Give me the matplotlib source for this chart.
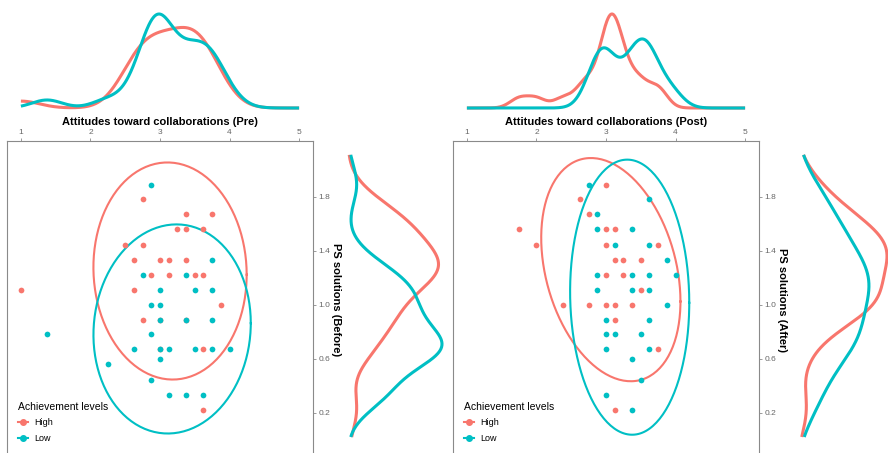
import numpy as np
import matplotlib
matplotlib.use('Agg')
from matplotlib import pyplot as plt
from matplotlib.lines import Line2D

HIGH = '#F8766D'
LOW = '#00BFC4'
TICK_GREY = '#666666'
BOX_GREY = '#8a8a8a'

plt.rcParams.update({
  'font.family': ['Liberation Sans', 'DejaVu Sans'],
  'axes.edgecolor': BOX_GREY,
  'axes.linewidth': 0.8,
  'xtick.color': BOX_GREY,
  'ytick.color': BOX_GREY,
  'xtick.labelcolor': TICK_GREY,
  'ytick.labelcolor': TICK_GREY,
  'xtick.labelsize': 6,
  'ytick.labelsize': 6,
})

# attitudes (x) vs PS solutions (y);
# the last three High points of the pre panel sit hidden under Low points
PRE_HIGH_X = [2.75, 3.375, 3.75, 3.25, 3.375, 3.625, 2.5, 2.75, 2.625, 3.0, 3.125,
              3.375, 2.875, 3.125, 3.5, 3.625, 1.0, 2.625, 3.875, 2.75, 3.625, 3.625,
              3.0, 3.0, 3.375]
PRE_HIGH_Y = [1.78, 1.67, 1.67, 1.56, 1.56, 1.56, 1.44, 1.44, 1.33, 1.33, 1.33,
              1.33, 1.22, 1.22, 1.22, 1.22, 1.11, 1.11, 1.0, 0.89, 0.67, 0.22,
              0.89, 0.67, 0.89]
PRE_LOW_X = [2.875, 3.75, 2.75, 3.375, 3.0, 3.5, 3.75, 2.875, 3.0, 3.0, 3.375, 3.75, 1.375,
             2.875, 2.625, 3.0, 3.125, 3.5, 3.75, 4.0, 3.0, 2.25, 2.875, 3.125, 3.375, 3.625]
PRE_LOW_Y = [1.89, 1.33, 1.22, 1.22, 1.11, 1.11, 1.11, 1.0, 1.0, 0.89, 0.89, 0.89, 0.78,
             0.78, 0.67, 0.67, 0.67, 0.67, 0.67, 0.67, 0.6, 0.56, 0.44, 0.33, 0.33, 0.33]

POST_HIGH_X = [3.0, 2.625, 2.75, 1.75, 3.0, 3.125, 2.0, 3.0, 3.75, 3.125, 3.25, 3.5,
               3.0, 3.25, 3.5, 2.375, 2.75, 3.0, 3.125, 3.375, 3.125, 3.75, 3.125]
POST_HIGH_Y = [1.89, 1.78, 1.67, 1.56, 1.56, 1.56, 1.44, 1.44, 1.44, 1.33, 1.33, 1.33,
               1.22, 1.22, 1.11, 1.0, 1.0, 1.0, 1.0, 1.0, 0.89, 0.67, 0.22]
POST_LOW_X = [2.75, 3.625, 2.875, 2.875, 3.375, 3.125, 3.625, 3.875, 2.875, 3.375, 3.625,
              4.0, 2.875, 3.375, 3.625, 3.875, 3.0, 3.625, 3.0, 3.125, 3.5, 3.0, 3.625,
              3.375, 3.5, 3.0, 3.375]
POST_LOW_Y = [1.89, 1.78, 1.67, 1.56, 1.56, 1.44, 1.44, 1.33, 1.22, 1.22, 1.22,
              1.22, 1.11, 1.11, 1.11, 1.0, 0.89, 0.89, 0.78, 0.78, 0.78, 0.67, 0.67,
              0.6, 0.44, 0.33, 0.22]

GROUPS = ['High', 'Low']
X_TICKS = [1, 2, 3, 4, 5]
Y_TICKS = [0.2, 0.6, 1.0, 1.4, 1.8]

W, H = 888, 453


def box(l, t, r, b):
  # pixel box -> figure fraction
  return [l / W, 1 - b / H, (r - l) / W, (b - t) / H]


def nrd0(v):
  v = np.asarray(v, float)
  sd = v.std(ddof=1)
  iqr = np.subtract(*np.percentile(v, [75, 25]))
  lo = min(sd, iqr / 1.34) or sd
  return 0.9 * lo * len(v) ** -0.2


def kde(v, grid):
  v = np.asarray(v, float)
  bw = nrd0(v)
  z = (grid[:, None] - v[None, :]) / bw
  return np.exp(-0.5 * z ** 2).sum(1) / (len(v) * bw * np.sqrt(2 * np.pi))


def cov_trob(pts, nu=5, maxit=25, tol=0.01):
  n, p = pts.shape
  loc = pts.mean(0)
  w = np.ones(n)
  for _ in range(maxit):
    w0 = w
    X = pts - loc
    S = (X * (w / w.sum())[:, None]).T @ X
    Q = np.einsum('ij,jk,ik->i', X, np.linalg.inv(S), X)
    w = (nu + p) / (nu + Q)
    loc = (w[:, None] * pts).sum(0) / w.sum()
    if np.all(np.abs(w - w0) < tol):
      break
  return loc, (X * w[:, None]).T @ X / n


def ellipse(xs, ys, level=0.95, seg=200):
  pts = np.column_stack([xs, ys])
  center, shape = cov_trob(pts)
  d = len(pts) - 1
  radius = np.sqrt(d * ((1 - level) ** (-2 / d) - 1))
  chol = np.linalg.cholesky(shape).T
  t = np.linspace(0, 2 * np.pi, seg)
  circle = np.column_stack([np.cos(t), np.sin(t)])
  return center + radius * circle @ chol


def panel(fig, x0, data, xlabel, ylabel, side_base, side_max):
  xlim = (0.8, 5.2)
  ylim = (1 - (458 - 304.7) / 135, 1 + (304.7 - 141) / 135)

  ax = fig.add_axes(box(x0, 141, x0 + 306, 458))
  for (xs, ys), col in zip(data, [HIGH, LOW]):
    ex = ellipse(xs, ys)
    ax.plot(ex[:, 0], ex[:, 1], color=col, lw=1.5, zorder=2)
  for (xs, ys), col in zip(data, [HIGH, LOW]):
    ax.scatter(xs, ys, s=17, color=col, lw=0, zorder=3)
  ax.set_xlim(xlim)
  ax.set_ylim(ylim)
  ax.xaxis.tick_top()
  ax.yaxis.tick_right()
  ax.set_xticks(X_TICKS)
  ax.set_yticks(Y_TICKS)
  ax.tick_params(length=2.5, width=0.6, pad=1.2)
  ax.xaxis.set_label_position('top')
  ax.yaxis.set_label_position('right')
  ax.set_xlabel(xlabel, fontsize=8, fontweight='bold', labelpad=3)
  ax.set_ylabel(ylabel, fontsize=8, fontweight='bold', rotation=-90,
                va='bottom', labelpad=0.5)

  # marginal densities
  gx = np.linspace(1, 5, 512)
  gy = np.linspace(0.02, 2.11, 512)
  dx = [kde(xs, gx) for xs, _ in data]
  dy = [kde(ys, gy) for _, ys in data]

  top = fig.add_axes(box(x0, 14, x0 + 306, 108))
  for d, col in zip(dx, [HIGH, LOW]):
    top.plot(gx, d, color=col, lw=2.2, solid_capstyle='butt')
  top.set_xlim(xlim)
  top.set_ylim(0, max(d.max() for d in dx))
  top.axis('off')

  side = fig.add_axes(box(side_base, 141, side_max, 458))
  for d, col in zip(dy, [HIGH, LOW]):
    side.plot(d, gy, color=col, lw=2.2, solid_capstyle='butt')
  side.set_ylim(ylim)
  side.set_xlim(0, max(d.max() for d in dy))
  side.axis('off')
  for a in (top, side):
    for ln in a.lines:
      ln.set_clip_on(False)

  handles = [Line2D([], [], color=c, marker='o', markersize=4, lw=1.5)
             for c in [HIGH, LOW]]
  fig.legend(handles, GROUPS, title='Achievement levels', loc='upper left',
             bbox_to_anchor=((x0 + 6) / W, 1 - 397 / H), frameon=False,
             fontsize=6.5, title_fontsize=7.5, alignment='left',
             borderpad=0, handlelength=1.2, handletextpad=0.7,
             labelspacing=0.75)


fig = plt.figure(figsize=(W / 100, H / 100), dpi=100)

panel(fig, 7, [(PRE_HIGH_X, PRE_HIGH_Y), (PRE_LOW_X, PRE_LOW_Y)],
      'Attitudes toward collaborations (Pre)', 'PS solutions (Before)', 348, 442)
panel(fig, 453, [(POST_HIGH_X, POST_HIGH_Y), (POST_LOW_X, POST_LOW_Y)],
      'Attitudes toward collaborations (Post)', 'PS solutions (After)', 797, 887)

fig.savefig('out.png', dpi=100, facecolor='white')
